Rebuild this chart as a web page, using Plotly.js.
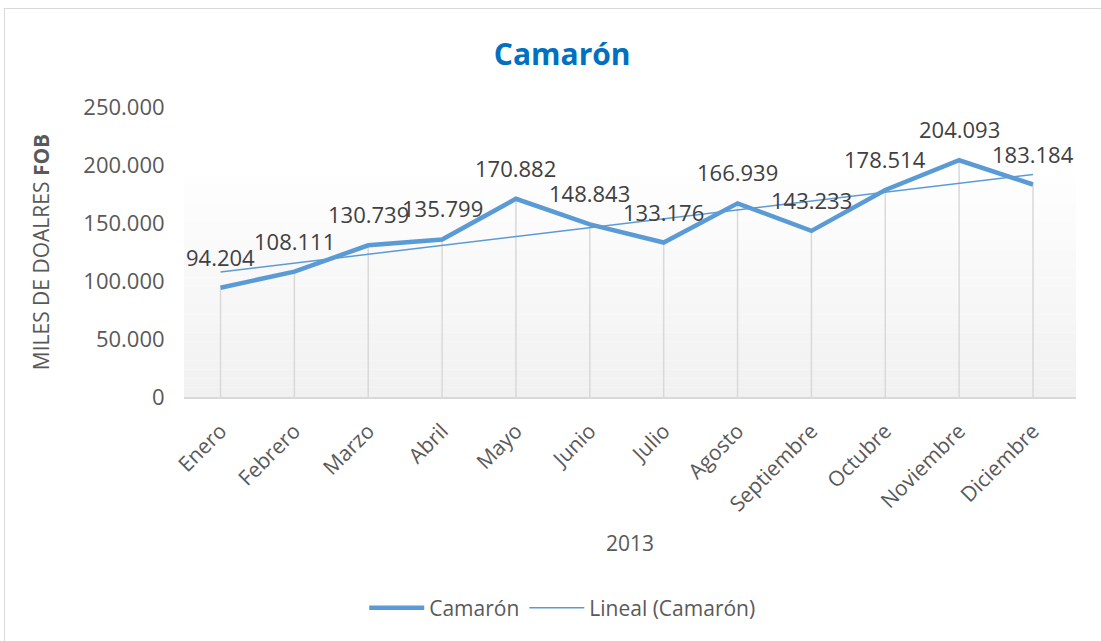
<!DOCTYPE html>
<html><head><meta charset="utf-8">
<script src="https://cdn.plot.ly/plotly-3.0.1.min.js"></script>
<style>
html,body{margin:0;padding:0;background:#fff;overflow:hidden;}
#chart{width:1101px;height:641px;}
#frame{position:absolute;left:4px;top:8px;width:1120px;height:660px;border:1px solid #d9d9d9;pointer-events:none;}
</style>
</head><body>
<div id="chart"></div><div id="frame"></div>
<script>
const months = ['Enero','Febrero','Marzo','Abril','Mayo','Junio','Julio','Agosto','Septiembre','Octubre','Noviembre','Diciembre'];
const values = [94204,108111,130739,135799,170882,148843,133176,166939,143233,178514,204093,183184];
const seriesName = 'Camarón';
const trendName = 'Lineal (Camarón)';
const chartTitle = 'Camarón';
const xTitle = '2013';
const yTitle = 'MILES DE DOALRES <b>FOB</b>';
const yTicks = [0,50000,100000,150000,200000,250000];

// linear least-squares trendline (Excel "Lineal")
const n = values.length;
const xs = values.map((_, i) => i + 1);
const mx = xs.reduce((a, b) => a + b, 0) / n;
const my = values.reduce((a, b) => a + b, 0) / n;
let sxy = 0, sxx = 0;
xs.forEach((x, i) => { sxy += (x - mx) * (values[i] - my); sxx += (x - mx) * (x - mx); });
const slope = sxy / sxx, icpt = my - slope * mx;
const trend = xs.map(x => icpt + slope * x);

function fmt(v) { return String(v).replace(/\B(?=(\d{3})+(?!\d))/g, '.'); }

const dropX = [], dropY = [];
months.forEach((m, i) => { dropX.push(m, m, null); dropY.push(0, values[i], null); });

const blue = '#5B9BD5';
const font = 'Open Sans, Lato, sans-serif';

const traces = [
  {x: dropX, y: dropY, mode: 'lines', line: {color: '#d9d9d9', width: 1.5}, showlegend: false, hoverinfo: 'skip'},
  {x: months, y: values, name: seriesName, mode: 'lines', line: {color: blue, width: 4.5}},
  {x: months, y: trend, name: trendName, mode: 'lines', line: {color: blue, width: 1.5}}
];

// gradient plot-area background
const shapes = [];
const gTop = 0.762, steps = 24;
for (let i = 0; i < steps; i++) {
  const t = i / (steps - 1);
  const c = Math.round(254 - t * 13);
  shapes.push({type: 'rect', xref: 'paper', yref: 'paper', x0: 0, x1: 1,
    y0: gTop * (steps - 1 - i) / steps, y1: gTop * (steps - i) / steps,
    fillcolor: `rgb(${c},${c},${c})`, line: {width: 0}, layer: 'below'});
}

const annotations = months.map((m, i) => ({
  x: m, y: values[i], xref: 'x', yref: 'y', text: fmt(values[i]), showarrow: false,
  yshift: 31, font: {family: font, size: 22, color: '#404040'}
}));

const layout = {
  width: 1101, height: 641,
  margin: {l: 184, r: 25, t: 107, b: 244},
  paper_bgcolor: '#ffffff', plot_bgcolor: '#ffffff',
  separators: ',.',
  font: {family: font, color: '#595959', size: 22},
  title: {text: '<b>' + chartTitle + '</b>', x: 0.424, xref: 'paper', xanchor: 'center', y: 0.915, yanchor: 'middle',
          font: {family: font, size: 30, color: '#0070C0'}},
  xaxis: {type: 'category', showgrid: false, zeroline: false, showline: true, linecolor: '#d9d9d9', linewidth: 1.5,
          tickangle: -45, ticks: 'outside', ticklen: 12, tickcolor: 'rgba(0,0,0,0)',
          tickfont: {family: font, size: 21, color: '#595959'},
          title: {text: xTitle, font: {family: font, size: 21, color: '#595959'}, standoff: 20}},
  yaxis: {range: [0, 250000], tickvals: yTicks, tickformat: ',', showgrid: false, zeroline: false, showline: false,
          ticks: 'outside', ticklen: 14, tickcolor: 'rgba(0,0,0,0)',
          tickfont: {family: font, size: 22, color: '#595959'},
          title: {text: yTitle, font: {family: font, size: 21, color: '#595959'}, standoff: 27}},
  legend: {orientation: 'h', x: 0.424, xanchor: 'center', y: -0.728, yanchor: 'middle',
           font: {family: font, size: 21, color: '#595959'}, itemwidth: 55},
  shapes: shapes,
  annotations: annotations,
  showlegend: true
};

Plotly.newPlot('chart', traces, layout, {displayModeBar: false, staticPlot: true});
</script>
</body></html>
